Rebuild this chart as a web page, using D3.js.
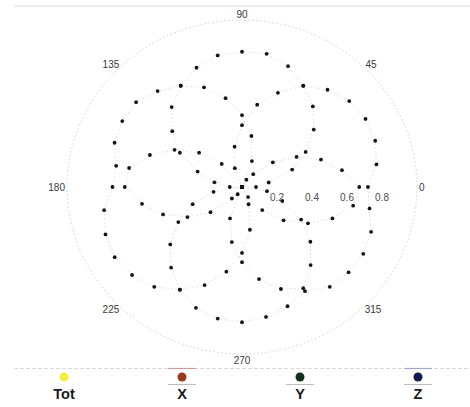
<!DOCTYPE html>
<html>
<head>
<meta charset="utf-8">
<script src="https://cdn.jsdelivr.net/npm/d3@7"></script>
<style>
  body { margin: 0; background: #fff; }
  svg { display: block; font-family: "Liberation Sans", Arial, sans-serif; }
</style>
</head>
<body>
<div id="polar"></div>
<script>
const width = 470;
const height = 407;

// sample angles (degrees) shared by every series
const angles = [0, 10, 20, 30, 40, 50, 60, 70, 80, 90, 100, 110, 120, 130, 140, 150, 160, 170,
                180, 190, 200, 210, 220, 230, 240, 250, 260, 270, 280, 290, 300, 310, 320, 330, 340, 350];

// values
const tot = [0.72, 0.78, 0.81, 0.815, 0.80, 0.76, 0.70, 0.77, 0.81, 0.81, 0.80, 0.76, 0.70, 0.75, 0.79, 0.79, 0.775, 0.73,
             0.74, 0.80, 0.83, 0.84, 0.82, 0.78, 0.71, 0.77, 0.80, 0.81, 0.79, 0.76, 0.72, 0.78, 0.795, 0.80, 0.785, 0.74];
const xs  = [0.67, 0.58, 0.48, 0.36, 0.23, 0.10, 0.05, 0, 0, 0, 0, 0, 0, 0.18, 0.32, 0.445, 0.56, 0.655,
             0.67, 0.58, 0.48, 0.36, 0.235, 0.09, 0.05, 0, 0, 0, 0, 0, 0.07, 0.18, 0.31, 0.435, 0.55, 0.645];
const ys  = [0.08, 0.155, 0.305, 0.42, 0.535, 0.63, 0.70, 0.60, 0.50, 0.37, 0.245, 0.12, 0, 0, 0, 0, 0, 0,
             0, 0.165, 0.30, 0.42, 0.535, 0.63, 0.71, 0.625, 0.515, 0.395, 0.26, 0.11, 0, 0, 0, 0, 0, 0];
const zs  = [0, 0, 0, 0, 0, 0, 0, 0.165, 0.31, 0.43, 0.54, 0.635, 0.70, 0.625, 0.52, 0.41, 0.27, 0.16,
             0.07, 0, 0, 0, 0, 0, 0, 0.20, 0.335, 0.45, 0.56, 0.65, 0.70, 0.61, 0.51, 0.39, 0.245, 0.145];

const radialTicks = [0.2, 0.4, 0.6, 0.8];
const angleTicks = [0, 45, 90, 135, 180, 225, 270, 315];

const legendLabels = ["Tot", "X", "Y", "Z"];
const legendColors = ["#f2ee3c", "#9a3a1a", "#12301c", "#111a4e"];

const cx = 242, cy = 187;

const svg = d3.select("#polar").append("svg")
  .attr("width", width)
  .attr("height", height);

// the copy is a bit squashed vertically, so x and y radius get their own scale
const rX = d3.scaleLinear().domain([0, 1]).range([0, 175]);
const rY = d3.scaleLinear().domain([0, 1]).range([0, 167]);
const rad = a => a * Math.PI / 180;
const px = (a, r) => cx + rX(r) * Math.cos(rad(a));
const py = (a, r) => cy - rY(r) * Math.sin(rad(a));

// faint rule at the top
svg.append("line")
  .attr("x1", 14).attr("x2", width).attr("y1", 6).attr("y2", 6)
  .attr("stroke", "#dadada").attr("stroke-width", 1);

// outer ring
svg.append("ellipse")
  .attr("cx", cx).attr("cy", cy)
  .attr("rx", rX(1)).attr("ry", rY(1))
  .attr("fill", "none")
  .attr("stroke", "#cbcbc2")
  .attr("stroke-width", 0.9)
  .attr("stroke-dasharray", "1.5,2.5");

// angle labels, pushed just outside the ring
const aLab = svg.append("g").selectAll("text")
  .data(angleTicks)
  .join("text")
  .text(d => d)
  .attr("font-size", 10)
  .attr("fill", "#3a3a3a")
  .attr("text-anchor", "middle")
  .attr("dominant-baseline", "central");

aLab.each(function(d) {
  const hw = this.getComputedTextLength() / 2;
  const x = px(d, 1) + Math.cos(rad(d)) * (hw + 2);
  const y = py(d, 1) - Math.sin(rad(d)) * 6;
  d3.select(this).attr("x", x).attr("y", y);
});

// radial labels
svg.append("g").selectAll("text")
  .data(radialTicks)
  .join("text")
  .text(d => d)
  .attr("x", d => cx + rX(d))
  .attr("y", cy + 10)
  .attr("font-size", 10)
  .attr("fill", "#4a4a4a")
  .attr("text-anchor", "middle")
  .attr("dominant-baseline", "central");

const series = [tot, xs, ys, zs];

const line = d3.line()
  .x((d, i) => px(angles[i], d))
  .y((d, i) => py(angles[i], d))
  .curve(d3.curveLinearClosed);

// faint dotted traces
svg.append("g").selectAll("path")
  .data(series)
  .join("path")
  .attr("d", d => line(d))
  .attr("fill", "none")
  .attr("stroke", "#d4d4d4")
  .attr("stroke-width", 0.8)
  .attr("stroke-dasharray", "1.5,2.5");

// the points
svg.append("g").selectAll("g")
  .data(series)
  .join("g")
  .selectAll("circle")
  .data(d => d)
  .join("circle")
  .attr("cx", (d, i) => px(angles[i], d))
  .attr("cy", (d, i) => py(angles[i], d))
  .attr("r", 1.9)
  .attr("fill", "#151515");

// legend
const legendY = 377;
const lx = d3.scalePoint().domain(legendLabels).range([64, 418]);

svg.append("line")
  .attr("x1", 14).attr("x2", width).attr("y1", 368.5).attr("y2", 368.5)
  .attr("stroke", "#dadada").attr("stroke-width", 1)
  .attr("stroke-dasharray", "4,2");

const leg = svg.append("g").selectAll("g")
  .data(legendLabels)
  .join("g")
  .attr("transform", d => `translate(${lx(d)},0)`);

// small rules round the X / Y / Z keys
leg.filter(d => d !== "Tot").append("line")
  .attr("x1", -14).attr("x2", 14).attr("y1", 384.5).attr("y2", 384.5)
  .attr("stroke", "#bcbcbc").attr("stroke-width", 1);
leg.filter(d => d === "X" || d === "Z").append("line")
  .attr("x1", -14).attr("x2", 14).attr("y1", 368.5).attr("y2", 368.5)
  .attr("stroke", d => d === "X" ? "#c4a096" : "#9eaac6").attr("stroke-width", 1.2);

leg.append("circle")
  .attr("cy", legendY)
  .attr("r", 4.5)
  .attr("fill", (d, i) => legendColors[i]);

leg.append("text")
  .text(d => d)
  .attr("y", 399)
  .attr("font-size", 14.5)
  .attr("font-weight", "bold")
  .attr("fill", "#1a1a1a")
  .attr("text-anchor", "middle");
</script>
</body>
</html>
